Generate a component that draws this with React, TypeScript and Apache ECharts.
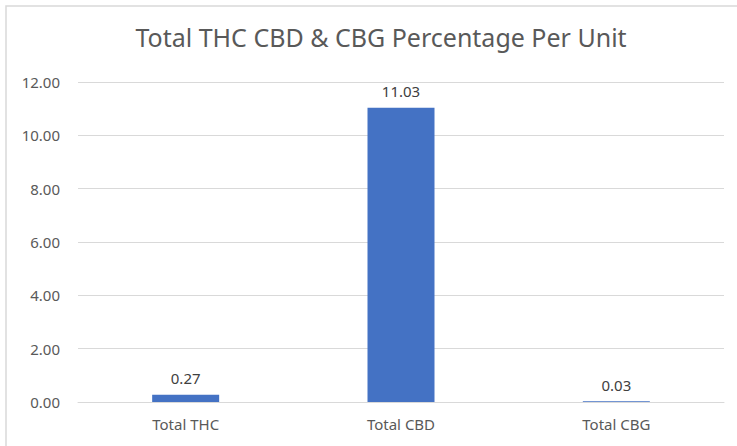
import React, { useEffect, useRef } from "react";
import * as echarts from "echarts";

const categories = ["Total THC", "Total CBD", "Total CBG"];
const values = [0.27, 11.03, 0.03];
const titleText = "Total THC CBD & CBG Percentage Per Unit";

export default function App() {
  const ref = useRef<HTMLDivElement>(null);
  useEffect(() => {
    document.body.style.margin = "0";
    const chart = echarts.init(ref.current!, undefined, { renderer: "svg" });
    const font = "'Noto Sans', sans-serif";
    chart.setOption({
      animation: false,
      backgroundColor: "#ffffff",
      title: {
        text: titleText,
        left: 376,
        textAlign: "center",
        top: 19,
        textStyle: { fontFamily: font, fontSize: 25, fontWeight: "normal", color: "#595959" },
      },
      graphic: [
        {
          type: "rect",
          shape: { x: 6, y: 6, width: 760, height: 470 },
          style: { fill: "none", stroke: "#d9d9d9", lineWidth: 1.5 },
          silent: true,
        },
      ],
      grid: { left: 78, right: 13, top: 82, bottom: 44 },
      xAxis: {
        type: "category",
        data: categories,
        axisTick: { show: false },
        axisLine: { show: true, lineStyle: { color: "#d9d9d9", width: 1 } },
        axisLabel: { fontFamily: font, fontSize: 15, color: "#595959", margin: 14 },
      },
      yAxis: {
        type: "value",
        min: 0,
        max: 12,
        interval: 2,
        axisLine: { show: false },
        axisTick: { show: false },
        splitLine: { lineStyle: { color: "#d9d9d9", width: 1 } },
        axisLabel: {
          fontFamily: font,
          fontSize: 15,
          color: "#595959",
          margin: 18,
          formatter: (v: number) => v.toFixed(2),
        },
      },
      series: [
        {
          type: "bar",
          data: values,
          barWidth: 67,
          itemStyle: { color: "#4472C4" },
          label: {
            show: true,
            position: "top",
            distance: 9,
            fontFamily: font,
            fontSize: 15,
            color: "#404040",
            formatter: (p: any) => p.value.toFixed(2),
          },
        },
      ],
    });
    return () => chart.dispose();
  }, []);
  return <div ref={ref} style={{ width: 737, height: 446 }} />;
}
